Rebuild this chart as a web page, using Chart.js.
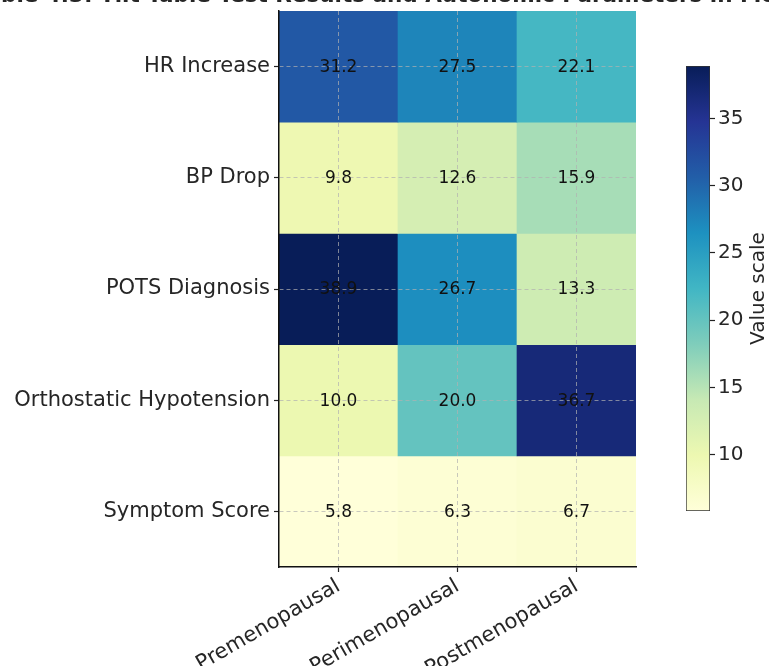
<!DOCTYPE html>
<html>
<head>
<meta charset="utf-8">
<script src="https://cdn.jsdelivr.net/npm/chart.js@4.4.0/dist/chart.umd.min.js"></script>
<style>
  html, body { margin: 0; padding: 0; background: #fff; }
  #wrap { position: relative; width: 769px; height: 666px; overflow: hidden; }
  #wrap canvas { position: absolute; left: 0; top: 0; }
</style>
</head>
<body>
<div id="wrap">
  <canvas id="heatmap" width="769" height="666"></canvas>
  <canvas id="colorbar" width="769" height="666"></canvas>
</div>
<script>
const titleText = 'Table 4.3: Tilt Table Test Results and Autonomic Parameters in Menopausal Women';
const groups = ['Premenopausal', 'Perimenopausal', 'Postmenopausal'];
const parameters = ['HR Increase', 'BP Drop', 'POTS Diagnosis', 'Orthostatic Hypotension', 'Symptom Score'];

const hrIncrease = [31.2, 27.5, 22.1];
const bpDrop = [9.8, 12.6, 15.9];
const potsDiagnosis = [38.9, 26.7, 13.3];
const orthostaticHypotension = [10.0, 20.0, 36.7];
const symptomScore = [5.8, 6.3, 6.7];

const colorbarTicks = [10, 15, 20, 25, 30, 35];
const colorbarLabel = 'Value scale';

// YlGnBu stops
const ylGnBu = ['#ffffd9', '#edf8b1', '#c7e9b4', '#7fcdbb', '#41b6c4', '#1d91c0', '#225ea8', '#253494', '#081d58'];

const rows = [hrIncrease, bpDrop, potsDiagnosis, orthostaticHypotension, symptomScore];
const allValues = rows.flat();
const vmin = Math.min(...allValues);
const vmax = Math.max(...allValues);

const FONT = 'DejaVu Sans, sans-serif';
const TEXT = '#262626';

function hexToRgb(h) {
    return [parseInt(h.slice(1, 3), 16), parseInt(h.slice(3, 5), 16), parseInt(h.slice(5, 7), 16)];
}

function colorFor(v) {
    const t = Math.max(0, Math.min(1, (v - vmin) / (vmax - vmin)));
    const pos = t * (ylGnBu.length - 1);
    const i = Math.min(Math.floor(pos), ylGnBu.length - 2);
    const f = pos - i;
    const a = hexToRgb(ylGnBu[i]);
    const b = hexToRgb(ylGnBu[i + 1]);
    const c = a.map((x, k) => Math.round(x + (b[k] - x) * f));
    return 'rgb(' + c.join(',') + ')';
}

function noScalePadding(s) {
    s.paddingTop = 0;
    s.paddingBottom = 0;
    s.paddingLeft = 0;
    s.paddingRight = 0;
}

const gridStyle = {
    offset: false,
    z: 1,
    color: 'rgba(176,176,176,0.7)',
    lineWidth: 1,
    tickLength: 5,
    tickColor: '#222',
    tickWidth: 1.2,
    tickBorderDash: []
};

const borderStyle = { color: '#111', width: 1.5, dash: [4, 3], z: 2 };

const cellText = {
    id: 'cellText',
    afterDraw(chart) {
        const ctx = chart.ctx;
        ctx.save();
        ctx.font = '17px ' + FONT;
        ctx.fillStyle = '#111';
        ctx.textAlign = 'center';
        ctx.textBaseline = 'middle';
        rows.forEach(function (vals, i) {
            const meta = chart.getDatasetMeta(i);
            meta.data.forEach(function (bar, j) {
                const p = bar.getCenterPoint();
                ctx.fillText(vals[j].toFixed(1), p.x, p.y + 1);
            });
        });
        // title, mostly cut off by the top edge
        ctx.font = 'bold 21.5px ' + FONT;
        ctx.fillStyle = TEXT;
        ctx.textAlign = 'left';
        ctx.textBaseline = 'alphabetic';
        const lead = ctx.measureText('Table 4.3: ').width;
        ctx.fillText(titleText, 100 - lead, 2);
        ctx.restore();
    }
};

new Chart(document.getElementById('heatmap'), {
    type: 'bar',
    data: {
        labels: groups,
        datasets: rows.map(function (vals, i) {
            return {
                label: parameters[i],
                data: vals.map(function () { return [i - 0.5, i + 0.5]; }),
                backgroundColor: vals.map(colorFor),
                borderWidth: 0,
                barPercentage: 1,
                categoryPercentage: 1,
                grouped: false
            };
        })
    },
    options: {
        responsive: false,
        animation: false,
        layout: { padding: { left: 0, top: 11, right: 133, bottom: 0 } },
        scales: {
            x: {
                type: 'category',
                offset: true,
                grid: gridStyle,
                border: borderStyle,
                ticks: { font: { family: FONT, size: 21 }, color: TEXT, maxRotation: 30, minRotation: 30, padding: 2 },
                afterFit: function (s) { s.height = 99; noScalePadding(s); }
            },
            y: {
                type: 'linear',
                min: -0.5,
                max: 4.5,
                reverse: true,
                grid: gridStyle,
                border: borderStyle,
                afterBuildTicks: function (axis) {
                    axis.ticks = parameters.map(function (_, i) { return { value: i }; });
                },
                ticks: {
                    font: { family: FONT, size: 21 },
                    color: TEXT,
                    padding: 4,
                    callback: function (v) { return parameters[v]; }
                },
                afterFit: function (s) { s.width = 279; noScalePadding(s); }
            }
        },
        plugins: {
            legend: { display: false },
            tooltip: { enabled: false },
            title: { display: false }
        }
    },
    plugins: [cellText]
});

const colorbarTitle = {
    id: 'colorbarTitle',
    afterDraw(chart) {
        const ctx = chart.ctx;
        const a = chart.chartArea;
        ctx.save();
        ctx.translate(759, (a.top + a.bottom) / 2);
        ctx.rotate(-Math.PI / 2);
        ctx.font = '20px ' + FONT;
        ctx.fillStyle = TEXT;
        ctx.textAlign = 'center';
        ctx.textBaseline = 'middle';
        ctx.fillText(colorbarLabel, 0, 0);
        ctx.restore();
    }
};

new Chart(document.getElementById('colorbar'), {
    type: 'bar',
    data: {
        labels: [colorbarLabel],
        datasets: [{
            data: [[vmin, vmax]],
            backgroundColor: function (c) {
                const area = c.chart.chartArea;
                if (!area) return ylGnBu[0];
                const g = c.chart.ctx.createLinearGradient(0, area.bottom, 0, area.top);
                ylGnBu.forEach(function (col, i) { g.addColorStop(i / (ylGnBu.length - 1), col); });
                return g;
            },
            borderColor: '#333',
            borderWidth: 1,
            borderSkipped: false,
            barPercentage: 1,
            categoryPercentage: 1
        }]
    },
    options: {
        responsive: false,
        animation: false,
        layout: { padding: { left: 686, top: 66, right: 0, bottom: 155 } },
        scales: {
            x: { display: false },
            y: {
                position: 'right',
                min: vmin,
                max: vmax,
                grid: { drawOnChartArea: false, tickLength: 5, tickColor: '#222', tickWidth: 1.2 },
                border: { display: false },
                afterBuildTicks: function (axis) {
                    axis.ticks = colorbarTicks.map(function (v) { return { value: v }; });
                },
                ticks: { font: { family: FONT, size: 20 }, color: TEXT, padding: 3 },
                afterFit: function (s) { s.width = 59; noScalePadding(s); }
            }
        },
        plugins: {
            legend: { display: false },
            tooltip: { enabled: false }
        }
    },
    plugins: [colorbarTitle]
});
</script>
</body>
</html>
